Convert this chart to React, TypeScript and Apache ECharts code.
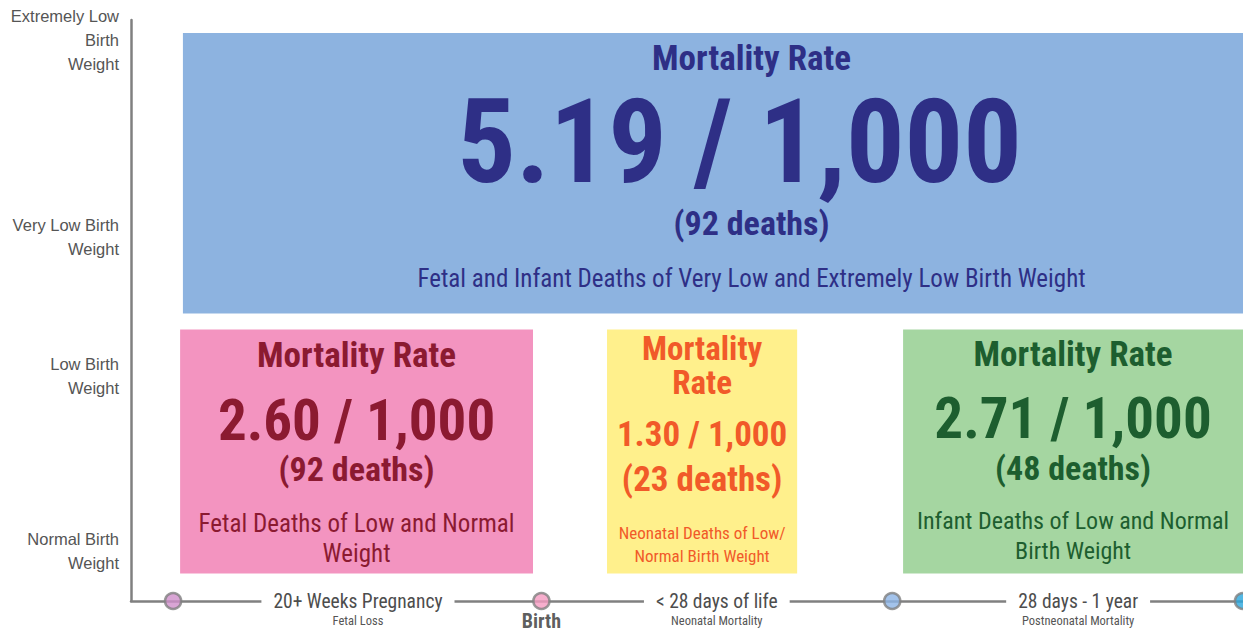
import React, { useEffect, useRef } from 'react';
import * as echarts from 'echarts';

// ---- data ----
const weightLabels = ['Normal Birth\nWeight', 'Low Birth\nWeight', 'Very Low Birth\nWeight', 'Extremely Low\nBirth\nWeight'];
const weightLevels = [0.344, 1.549, 2.506, 3.862];

const milestoneNames = ['20 weeks', 'Birth', '28 days', '1 year'];
const milestoneValues = [0, 1.05, 2.05, 3.05];

const periodLabels = ['20+ Weeks Pregnancy', '< 28 days of life', '28 days - 1 year'];
const periodSubLabels = ['Fetal Loss', 'Neonatal Mortality', 'Postneonatal Mortality'];
const periodCenters = [0.527, 1.55, 2.58];

const boxStart = [0.028, 0.02, 1.237, 2.081];
const boxEnd = [3.27, 1.026, 1.779, 3.05];
const boxBottom = [1.98, 0.19, 0.19, 0.19];
const boxTop = [3.91, 1.87, 1.87, 1.87];
const rateTitles = ['Mortality Rate', 'Mortality Rate', 'Mortality\nRate', 'Mortality Rate'];
const rates = ['5.19 / 1,000', '2.60 / 1,000', '1.30 / 1,000', '2.71 / 1,000'];
const deaths = [92, 92, 23, 48];
const descriptions = [
  'Fetal and Infant Deaths of Very Low and Extremely Low Birth Weight',
  'Fetal Deaths of Low and Normal\nWeight',
  'Neonatal Deaths of Low/\nNormal Birth Weight',
  'Infant Deaths of Low and Normal\nBirth Weight',
];

// ---- styles ----
const NARROW = "'Liberation Sans Narrow', 'Roboto Condensed', 'Arial Narrow', 'DejaVu Sans Condensed', sans-serif";
const SANS = "'Liberation Sans', Arial, sans-serif";
const boxFills = ['#8db3e0', '#f394c0', '#fff08c', '#a5d6a1'];
const boxTextColors = ['#2e2f86', '#8b1a31', '#f15a29', '#1d5e2f'];
const titleOffsets = [[25], [26], [19, 53], [25]];
const rateShiftX = [-12, 0, 0, 0];
const rateOffsets = [109, 91, 105, 89];
const deathOffsets = [190, 140, 150, 139];
const descOffsets = [[245], [194, 224], [204, 227], [192, 222]];
const titleSizes = [35, 35, 33, 35];
const rateSizes = [116, 57, 35, 57];
const deathSizes = [34, 34, 35, 34];
const descSizes = [25, 25, 17, 24];
const milestoneColors = ['#d08fca', '#f59ac1', '#8cb4e6', '#29a6dd'];
const AXIS_GRAY = '#808080';

export default function App() {
  const ref = useRef<HTMLDivElement>(null);
  useEffect(() => {
    const chart = echarts.init(ref.current!, null, { renderer: 'svg' });
    const option: any = {
      animation: false,
      backgroundColor: '#ffffff',
      grid: { left: 131, right: 0, top: 20, bottom: 31 },
      xAxis: {
        type: 'value', min: -0.12, max: 3.05,
        axisLine: { show: true, onZero: false, lineStyle: { color: AXIS_GRAY, width: 2.5 } },
        axisTick: { show: false }, axisLabel: { show: false }, splitLine: { show: false },
      },
      yAxis: {
        type: 'value', min: 0, max: 4,
        axisLine: { show: true, onZero: false, lineStyle: { color: AXIS_GRAY, width: 2.5 } },
        axisTick: { show: false }, splitLine: { show: false },
        axisLabel: {
          show: true,
          customValues: weightLevels,
          formatter: (v: number) => {
            const i = weightLevels.findIndex((w) => Math.abs(w - v) < 1e-6);
            return i >= 0 ? weightLabels[i] : '';
          },
          color: '#555555', fontSize: 16.5, lineHeight: 24, fontFamily: SANS,
          align: 'right', margin: 12,
        },
      },
      series: [
        {
          type: 'custom',
          name: 'boxes',
          encode: { x: [0, 1], y: [2, 3] },
          data: boxStart.map((s, i) => [s, boxEnd[i], boxBottom[i], boxTop[i]]),
          renderItem: (params: any, api: any) => {
            const i = params.dataIndex;
            const p0 = api.coord([api.value(0), api.value(3)]);
            const p1 = api.coord([api.value(1), api.value(2)]);
            const x = p0[0], y = p0[1], w = p1[0] - p0[0], h = p1[1] - p0[1];
            const cx = x + w / 2;
            const col = boxTextColors[i];
            const children: any[] = [
              { type: 'rect', shape: { x, y, width: w, height: h }, style: { fill: boxFills[i] } },
            ];
            const mk = (text: string, dy: number, size: number, weight: string, dx = 0) => ({
              type: 'text', x: cx + dx, y: y + dy,
              style: {
                text, fill: col, fontSize: size, fontWeight: weight, fontFamily: NARROW,
                lineHeight: Math.round(size * 0.95), align: 'center', verticalAlign: 'middle',
              },
            });
            rateTitles[i].split('\n').forEach((t, k) => children.push(mk(t, titleOffsets[i][k], titleSizes[i], 'bold')));
            children.push(mk(rates[i], rateOffsets[i], rateSizes[i], 'bold', rateShiftX[i]));
            children.push(mk('(' + deaths[i] + ' deaths)', deathOffsets[i], deathSizes[i], 'bold'));
            descriptions[i].split('\n').forEach((t, k) => children.push(mk(t, descOffsets[i][k], descSizes[i], 'normal')));
            return { type: 'group', children };
          },
        },
        {
          type: 'custom',
          name: 'periods',
          clip: false,
          encode: { x: 0, y: 1 },
          data: periodCenters.map((c) => [c, 0]),
          renderItem: (params: any, api: any) => {
            const i = params.dataIndex;
            const p = api.coord([api.value(0), api.value(1)]);
            return {
              type: 'group',
              children: [
                {
                  type: 'text', x: p[0], y: p[1],
                  style: {
                    text: periodLabels[i], fill: '#4d4d4d', fontSize: 19.5, fontFamily: NARROW,
                    align: 'center', verticalAlign: 'middle', backgroundColor: '#ffffff', padding: [2, 12],
                  },
                },
                {
                  type: 'text', x: p[0], y: p[1] + 19,
                  style: {
                    text: periodSubLabels[i], fill: '#555555', fontSize: 12.5, fontFamily: NARROW,
                    align: 'center', verticalAlign: 'middle',
                  },
                },
              ],
            };
          },
        },
        {
          type: 'scatter',
          name: 'milestones',
          clip: false,
          symbolSize: 16,
          data: milestoneValues.map((v, i) => ({
            name: milestoneNames[i],
            value: [v, 0],
            itemStyle: { color: milestoneColors[i], borderColor: AXIS_GRAY, borderWidth: 2.5 },
            label: i === 1 ? {
              show: true, position: 'bottom', distance: 1, formatter: milestoneNames[i],
              color: '#333333', fontSize: 20, lineHeight: 20, fontWeight: 'bold', fontFamily: NARROW,
            } : { show: false },
          })),
        },
      ],
    };
    chart.setOption(option);
    return () => chart.dispose();
  }, []);
  return <div ref={ref} style={{ position: 'fixed', left: 0, top: 0, width: 1243, height: 632 }} />;
}
